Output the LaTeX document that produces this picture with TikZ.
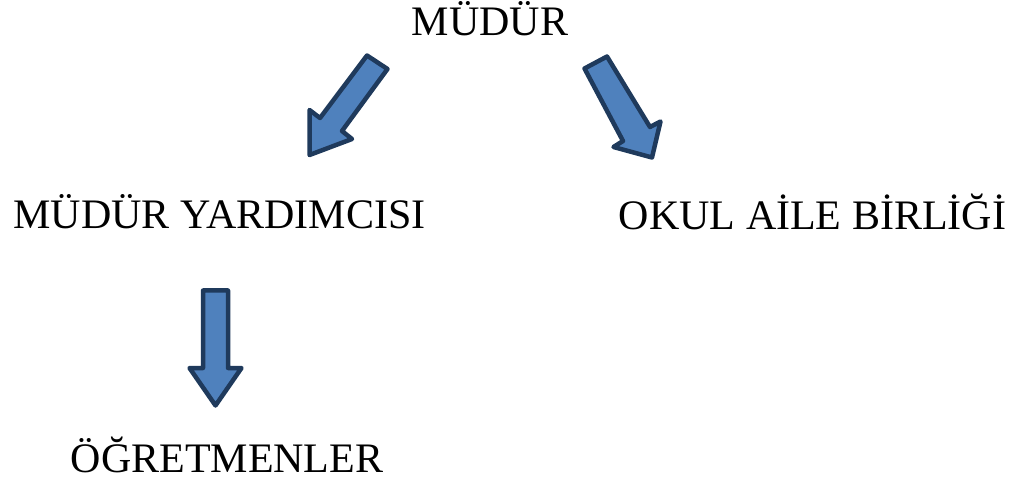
\documentclass[tikz,border=0pt]{standalone}
\usepackage{fontspec}
\setmainfont{Liberation Serif}
\definecolor{arrowfill}{HTML}{4F81BD}
\definecolor{arrowline}{HTML}{1F3A5C}
\begin{document}
\begin{tikzpicture}[x=1pt,y=-1pt,
  label/.style={anchor=base,inner sep=0pt,font=\fontsize{42}{50}\selectfont},
  blockarrow/.style={fill=arrowfill,draw=arrowline,line width=4.5pt,line join=round}]
\useasboundingbox (0,0) rectangle (1018,481);
\node[label] (mudur) at (490,36) {MÜDÜR};
\node[label] (yard) at (219.5,229) {MÜDÜR YARDIMCISI};
\node[label] (okul) at (812.5,230) {OKUL AİLE BİRLİĞİ};
\node[label] (ogr) at (227,472) {ÖĞRETMENLER};
% left arrow
\draw[blockarrow] (367,55.5) -- (387.5,69) -- (342,131) -- (352,139) -- (309.5,155) -- (309.5,110) -- (320,118) -- cycle;
% right arrow
\draw[blockarrow] (607,56.5) -- (650,127) -- (660.5,121.5) -- (652,157.5) -- (613.5,147) -- (623,141) -- (584.5,68.5) -- cycle;
% down arrow
\draw[blockarrow] (203,290.5) -- (228,290.5) -- (228,368) -- (241.5,368) -- (215.5,405.5) -- (189.5,368) -- (203,368) -- cycle;
\end{tikzpicture}
\end{document}
